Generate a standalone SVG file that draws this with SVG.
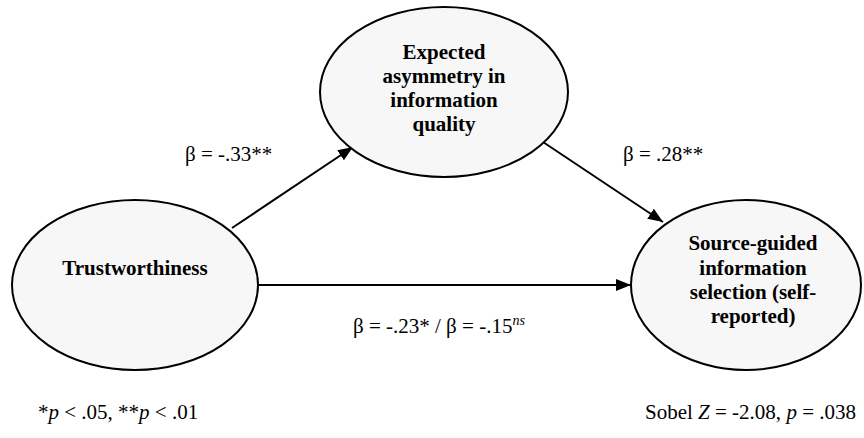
<svg xmlns="http://www.w3.org/2000/svg" width="864" height="438" viewBox="0 0 864 438">
  <style>
    .node { fill: #f7f7f7; stroke: #000; stroke-width: 2; }
    .nt { font-family: 'Liberation Serif', Tinos, 'Times New Roman', Times, 'DejaVu Serif', 'Noto Serif', serif; font-size: 21px; font-weight: bold; fill: #000; text-anchor: middle; }
    .lbl { font-family: 'Liberation Serif', Tinos, 'Times New Roman', Times, 'DejaVu Serif', 'Noto Serif', serif; font-size: 21px; fill: #000; }
    .edge { stroke: #000; stroke-width: 2; fill: none; marker-end: url(#arrow); }
    .it { font-style: italic; }
  </style>
  <defs>
    <marker id="arrow" markerUnits="userSpaceOnUse" markerWidth="16" markerHeight="12" refX="15" refY="6" orient="auto">
      <path d="M0,0 L15,6 L0,12 z" fill="#000"/>
    </marker>
  </defs>
  <rect width="864" height="438" fill="#fff"/>
  <g id="connectors">
    <line class="edge" x1="232" y1="228" x2="353" y2="147"/>
    <line class="edge" x1="543" y1="142" x2="663" y2="222"/>
    <line class="edge" x1="258" y1="285" x2="631" y2="285"/>
  </g>
  <g id="node-expected">
    <ellipse class="node" cx="444" cy="92" rx="124" ry="85"/>
    <text class="nt" x="444" y="59">Expected</text>
    <text class="nt" x="444" y="83">asymmetry in</text>
    <text class="nt" x="444" y="107">information</text>
    <text class="nt" x="444" y="131">quality</text>
  </g>
  <g id="node-trust">
    <ellipse class="node" cx="135" cy="285" rx="123" ry="85"/>
    <text class="nt" x="135" y="275">Trustworthiness</text>
  </g>
  <g id="node-source">
    <ellipse class="node" cx="746" cy="285" rx="115" ry="85"/>
    <text class="nt" x="753" y="250">Source-guided</text>
    <text class="nt" x="753" y="275">information</text>
    <text class="nt" x="753" y="299">selection (self-</text>
    <text class="nt" x="753" y="323">reported)</text>
  </g>
  <g id="labels">
    <text class="lbl" x="185" y="161">β = -.33**</text>
    <text class="lbl" x="623" y="161">β = .28**</text>
    <text class="lbl" x="353" y="333">β = -.23* / β = -.15<tspan class="it" font-size="14" dy="-8">ns</tspan></text>
    <text class="lbl" x="38" y="419">*<tspan class="it">p</tspan> &lt; .05, **<tspan class="it">p</tspan> &lt; .01</text>
    <text class="lbl" x="645" y="419">Sobel <tspan class="it">Z</tspan> = -2.08, <tspan class="it">p</tspan> = .038</text>
  </g>
</svg>
